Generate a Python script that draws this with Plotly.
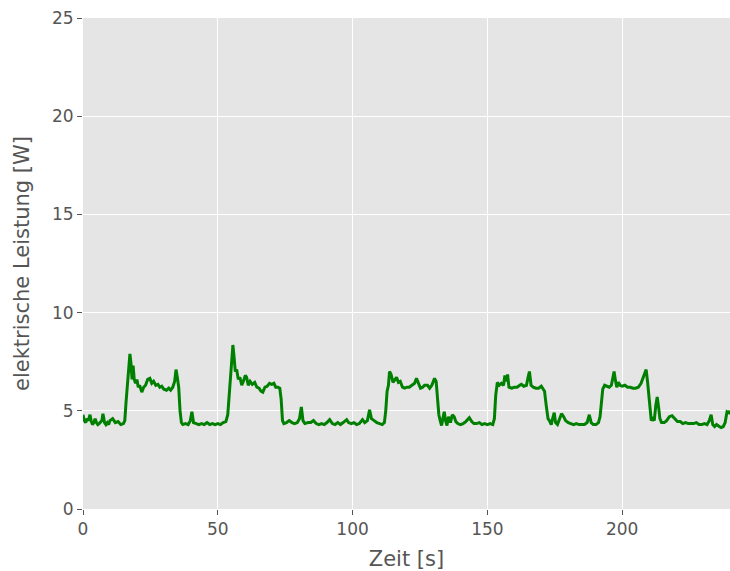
import plotly.graph_objects as go

# Messzeit in Sekunden und gemessene elektrische Leistung in Watt
zeit_s = [
    0, 0.5, 1, 1.5, 2, 2.6, 3, 3.5, 4, 4.5, 5, 5.5, 6, 7, 7.4, 8, 8.5, 9, 9.5, 10,
    11, 11.5, 12, 13, 14, 15, 15.5, 16, 16.5, 17, 17.4, 17.8, 18.2, 18.6, 19, 19.5,
    20, 20.5, 21, 21.8, 22.5, 23.2, 24, 24.8, 25.5, 26.2, 27, 27.8, 28.5, 29.2, 30,
    31, 31.8, 32.5, 33.3, 34, 34.5, 35, 35.5, 36, 36.5, 37, 38, 39, 39.8, 40.4, 41,
    42, 43, 44, 45, 46, 47, 48, 49, 50, 51, 52, 53, 53.7, 54.3, 55, 55.6, 56, 56.5,
    57, 57.6, 58.2, 58.9, 59.5, 60.2, 60.7, 61.3, 62, 62.8, 63.7, 64.5, 65.3, 66,
    66.7, 67.5, 68.3, 69.2, 70, 70.8, 71.5, 72.3, 73, 73.5, 74, 74.5, 75.5, 76.5,
    77.5, 78.5, 79.5, 80.3, 81, 81.6, 82.3, 83.5, 84.5, 85.5, 86.5, 87.5, 88.5,
    89.5, 90.5, 91.5, 92.5, 93.5, 94.5, 95.5, 96.5, 97.8, 98.5, 99.5, 100.5, 101.5,
    102.5, 103.7, 104.5, 105.5, 106.3, 107, 108, 109, 110, 111, 111.8, 112.3, 112.8,
    113.3, 113.7, 114.3, 115, 115.6, 116.3, 117, 117.7, 118.5, 119.3, 120.2, 121,
    122, 123, 123.7, 124.4, 125.2, 126, 126.7, 127.8, 128.6, 129.4, 130, 130.4, 131,
    131.5, 132, 132.5, 133, 133.5, 134, 134.5, 135, 135.6, 136.3, 137, 137.7, 138.3,
    139, 140, 141, 142, 143.3, 144.2, 145, 146, 147, 148, 149, 150, 151, 152, 152.6,
    153.1, 153.7, 154.4, 155.2, 156, 156.5, 157, 157.5, 158, 159, 160, 161, 162,
    162.6, 163.5, 164.5, 165.1, 165.6, 166.2, 167, 168, 169, 170, 170.6, 171.2,
    171.8, 172.5, 173, 173.7, 174.2, 174.8, 175.3, 176, 176.8, 177.5, 178.3, 179,
    180, 181, 182, 183, 184, 185, 186, 187, 187.8, 188.5, 189.3, 190.3, 191.2, 191.8,
    192.3, 192.8, 193.5, 194.3, 195.2, 196, 196.5, 197, 197.5, 198, 198.6, 199.2,
    200, 201, 202, 203, 204, 205, 206, 207, 207.8, 208.4, 208.9, 209.4, 209.9, 210.3,
    210.8, 211.3, 211.9, 212.5, 213, 213.5, 214, 214.6, 215.6, 216.5, 217.5, 218.5,
    219.5, 220.5, 221.5, 222.5, 223.5, 224.5, 225.5, 226.5, 227.5, 228.5, 229.5,
    230.5, 231.5, 232.3, 233, 233.6, 234.3, 235, 236, 236.7, 237.5, 238.2, 238.9,
    239.6, 240,
]

leistung_w = [
    4.8, 4.5, 4.4, 4.6, 4.5, 4.8, 4.5, 4.3, 4.4, 4.6, 4.4, 4.3, 4.35, 4.5, 4.85, 4.4,
    4.3, 4.4, 4.3, 4.5, 4.6, 4.5, 4.4, 4.45, 4.3, 4.35, 4.5, 5.5, 6.5, 7.0, 7.9, 7.4,
    6.6, 7.3, 6.6, 6.4, 6.6, 6.2, 6.3, 5.95, 6.2, 6.3, 6.6, 6.65, 6.4, 6.5, 6.3, 6.35,
    6.2, 6.25, 6.1, 6.05, 6.15, 6.05, 6.2, 6.5, 7.1, 6.7, 6.2, 5.0, 4.4, 4.3, 4.35,
    4.3, 4.5, 4.95, 4.4, 4.35, 4.3, 4.35, 4.3, 4.4, 4.3, 4.35, 4.3, 4.35, 4.3, 4.4,
    4.45, 4.8, 6.0, 7.2, 8.35, 7.8, 7.0, 7.1, 6.6, 6.7, 6.3, 6.5, 6.8, 6.7, 6.3, 6.5,
    6.35, 6.45, 6.2, 6.15, 6.0, 5.95, 6.2, 6.25, 6.4, 6.35, 6.4, 6.2, 6.2, 6.15, 5.6,
    4.5, 4.35, 4.4, 4.5, 4.4, 4.35, 4.4, 4.6, 5.2, 4.5, 4.35, 4.4, 4.4, 4.5, 4.35,
    4.3, 4.35, 4.3, 4.4, 4.55, 4.35, 4.3, 4.4, 4.3, 4.4, 4.55, 4.4, 4.35, 4.4, 4.3,
    4.35, 4.55, 4.4, 4.5, 5.05, 4.6, 4.5, 4.4, 4.35, 4.3, 4.4, 5.0, 6.0, 6.3, 7.0,
    6.85, 6.45, 6.6, 6.7, 6.45, 6.5, 6.2, 6.15, 6.2, 6.2, 6.3, 6.4, 6.65, 6.4, 6.15,
    6.2, 6.3, 6.3, 6.15, 6.3, 6.5, 6.65, 6.5, 5.6, 4.8, 4.5, 4.25, 4.6, 4.95, 4.5,
    4.25, 4.7, 4.4, 4.8, 4.7, 4.45, 4.35, 4.3, 4.35, 4.45, 4.65, 4.45, 4.35, 4.35,
    4.4, 4.3, 4.35, 4.3, 4.35, 4.3, 4.6, 5.8, 6.45, 6.3, 6.4, 6.3, 6.8, 6.5, 6.85,
    6.2, 6.15, 6.2, 6.2, 6.3, 6.35, 6.25, 6.3, 6.7, 7.0, 6.3, 6.2, 6.15, 6.15, 6.25,
    6.15, 6.0, 5.3, 4.6, 4.5, 4.3, 4.6, 4.9, 4.4, 4.3, 4.6, 4.85, 4.7, 4.5, 4.4,
    4.35, 4.3, 4.35, 4.3, 4.3, 4.3, 4.4, 4.8, 4.4, 4.3, 4.3, 4.4, 4.7, 5.6, 6.1,
    6.3, 6.25, 6.2, 6.3, 6.6, 7.0, 6.55, 6.2, 6.45, 6.3, 6.25, 6.3, 6.2, 6.2, 6.15,
    6.15, 6.2, 6.4, 6.7, 6.9, 7.1, 6.5, 5.8, 5.0, 4.5, 4.6, 4.5, 5.3, 5.7, 5.2, 4.6,
    4.4, 4.4, 4.5, 4.7, 4.75, 4.6, 4.45, 4.45, 4.35, 4.4, 4.35, 4.35, 4.35, 4.4,
    4.3, 4.3, 4.35, 4.3, 4.5, 4.8, 4.3, 4.2, 4.3, 4.2, 4.15, 4.2, 4.4, 4.95, 4.9,
    5.0,
]

x_ticks = [0, 50, 100, 150, 200]
y_ticks = [0, 5, 10, 15, 20, 25]

fig = go.Figure(
    go.Scatter(
        x=zeit_s,
        y=leistung_w,
        mode="lines",
        line=dict(color="#008000", width=3),
        showlegend=False,
    )
)

axis_common = dict(
    showgrid=True,
    gridcolor="#FFFFFF",
    gridwidth=1.2,
    zeroline=False,
    showline=False,
    ticks="outside",
    ticklen=5,
    tickwidth=1,
    tickcolor="#555555",
    tickfont=dict(family="DejaVu Sans", size=17, color="#555555"),
)

fig.update_xaxes(
    range=[0, 240],
    tickvals=x_ticks,
    ticktext=[str(v) for v in x_ticks],
    title=dict(text="Zeit [s]", font=dict(family="DejaVu Sans", size=21, color="#555555"), standoff=12),
    **axis_common,
)
fig.update_yaxes(
    range=[0, 25],
    tickvals=y_ticks,
    ticktext=[str(v) for v in y_ticks],
    title=dict(text="elektrische Leistung [W]", font=dict(family="DejaVu Sans", size=21, color="#555555"), standoff=16),
    **axis_common,
)

fig.update_layout(
    width=730,
    height=571,
    margin=dict(l=83, r=0, t=18, b=62),
    paper_bgcolor="#FFFFFF",
    plot_bgcolor="#E5E5E5",
    font=dict(family="DejaVu Sans", color="#555555"),
)

fig.write_html("out.html")
